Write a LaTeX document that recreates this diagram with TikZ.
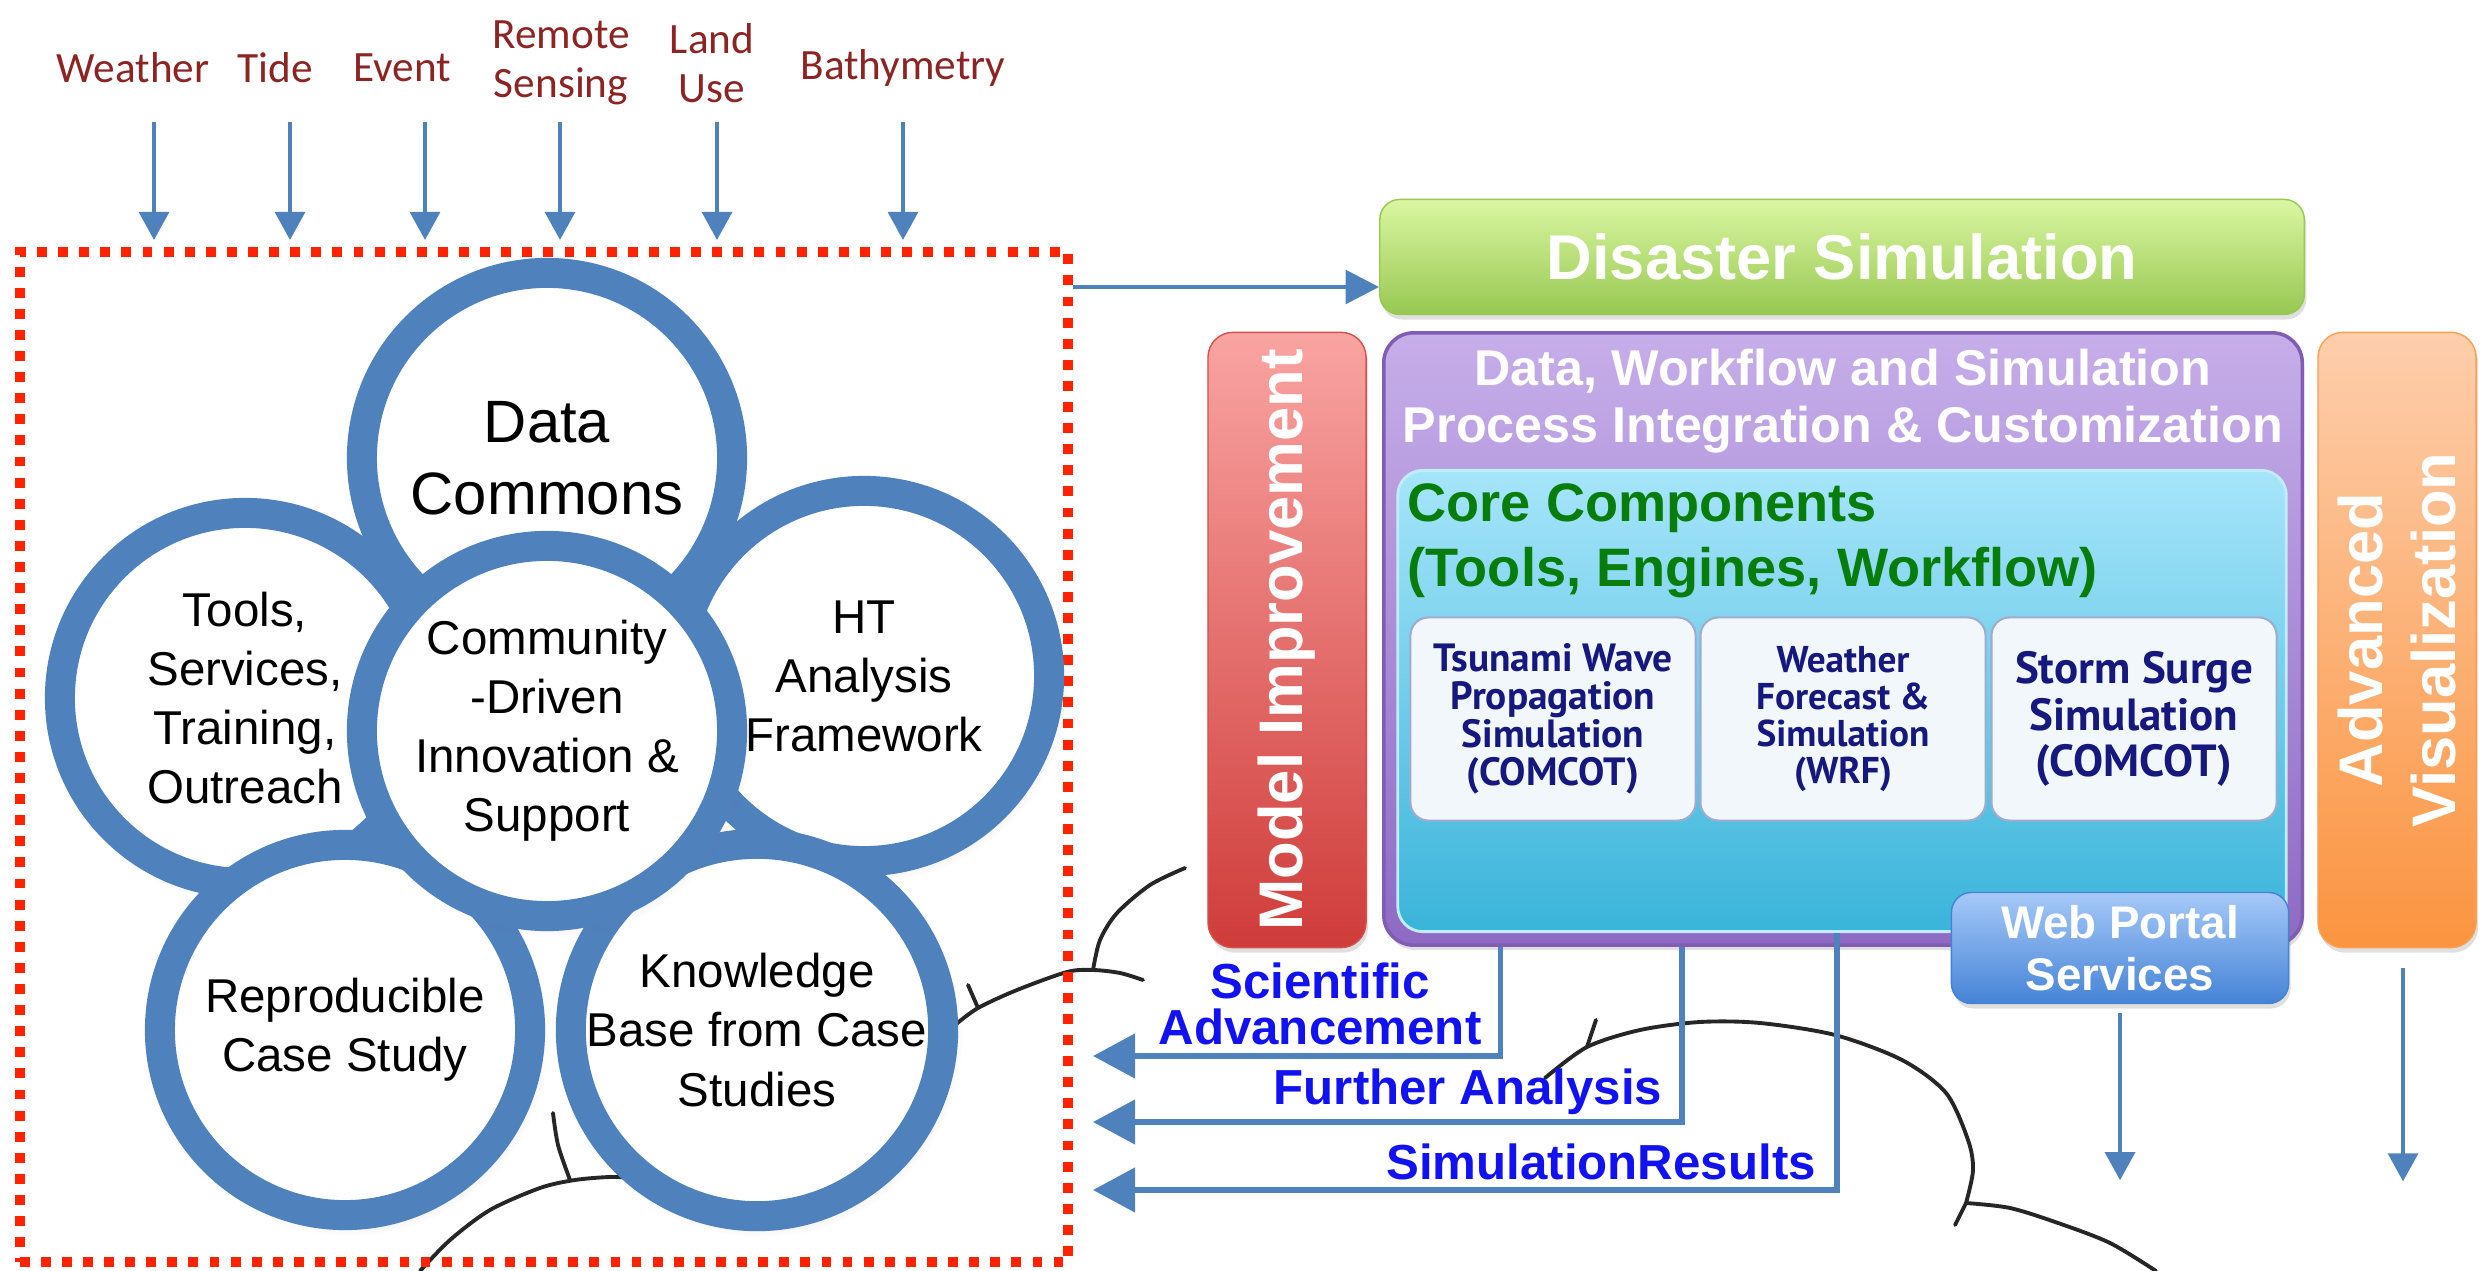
\documentclass[tikz,border=0pt]{standalone}
\usepackage{fontspec}
\setmainfont{Liberation Sans}
\newfontfamily\tagfont{Carlito}
\newfontfamily\modfont{PT Sans}
\usetikzlibrary{arrows.meta,shadows}

\definecolor{ringblue}{RGB}{79,129,189}
\definecolor{tagred}{RGB}{140,36,36}
\definecolor{dotred}{RGB}{255,34,0}
\definecolor{outblue}{RGB}{18,18,240}
\definecolor{coregreen}{RGB}{8,125,12}
\definecolor{navy}{RGB}{22,24,125}
\definecolor{dsTop}{RGB}{218,246,162}
\definecolor{dsBot}{RGB}{152,200,82}
\definecolor{miTop}{RGB}{249,164,162}
\definecolor{miBot}{RGB}{207,60,58}
\definecolor{avTop}{RGB}{253,206,172}
\definecolor{avBot}{RGB}{251,148,64}
\definecolor{prTop}{RGB}{198,174,233}
\definecolor{prBot}{RGB}{142,106,196}
\definecolor{prEdge}{RGB}{128,92,178}
\definecolor{coTop}{RGB}{166,229,250}
\definecolor{coBot}{RGB}{58,180,218}
\definecolor{wpTop}{RGB}{166,201,248}
\definecolor{wpBot}{RGB}{70,131,214}
\definecolor{modfill}{RGB}{241,247,251}
\definecolor{modedge}{RGB}{160,172,205}

\tikzset{
  tag/.style={text=tagred, font=\tagfont\fontsize{12.3}{13.8}\selectfont, align=center, inner sep=0pt},
  feed/.style={draw=ringblue, line width=1.1pt, -{Triangle[length=8pt,width=8.5pt]}},
  link/.style={draw=ringblue, line width=1.3pt, -{Triangle[length=9.5pt,width=9.5pt]}},
  back/.style={draw=ringblue, line width=1.5pt, -{Triangle[length=12pt,width=12.5pt]}},
  cloud/.style={draw=black!85, line width=1.1pt, line cap=round},
  poolbox/.style={draw=dotred, line width=2.8pt, dash pattern=on 2.8pt off 3.2pt, minimum width=10.48cm, minimum height=10.1cm, inner sep=0pt},
  ring/.style={circle, draw=ringblue, line width=0.3cm, fill=white, minimum size=3.7cm, inner sep=0pt, align=center,
    font=\fontsize{13.5}{16.8}\selectfont,
    circular drop shadow={opacity=0.25, shadow xshift=0.04cm, shadow yshift=-0.06cm, shadow scale=1.08}},
  softshadow/.style={drop shadow={opacity=0.25, shadow xshift=0.02cm, shadow yshift=-0.05cm}},
  dsbox/.style={rounded corners=0.2cm, top color=dsTop, bottom color=dsBot, draw=dsBot, minimum width=9.24cm, minimum height=1.15cm,
    text=white, font=\bfseries\fontsize{18}{22}\selectfont, softshadow},
  mibar/.style={rounded corners=0.25cm, top color=miTop, bottom color=miBot, draw=miBot!90, minimum width=1.58cm, minimum height=6.15cm, softshadow},
  avbar/.style={rounded corners=0.25cm, top color=avTop, bottom color=avBot, draw=avBot!90, minimum width=1.58cm, minimum height=6.15cm, softshadow},
  bartext/.style={rotate=90, text=white, font=\bfseries\fontsize{17.5}{20.8}\selectfont, inner sep=0pt, align=center},
  procbox/.style={rounded corners=0.3cm, top color=prTop, bottom color=prBot, draw=prEdge, line width=1pt, minimum width=9.18cm, minimum height=6.12cm, softshadow},
  proctext/.style={text=white, font=\bfseries\fontsize{14.3}{16.2}\selectfont, align=center, inner sep=0pt},
  corebox/.style={rounded corners=0.25cm, top color=coTop, bottom color=coBot, draw=coTop!70!white, line width=0.8pt, minimum width=8.88cm, minimum height=4.61cm},
  coretext/.style={text=coregreen, font=\bfseries\fontsize{15.4}{18.5}\selectfont, align=left, inner sep=0pt},
  modbox/.style={rounded corners=0.18cm, fill=modfill, draw=modedge, line width=0.6pt, minimum width=2.85cm, minimum height=2.03cm,
    text=navy, align=center, inner sep=0pt, font=\modfont\bfseries\fontsize{11.2}{10.8}\selectfont},
  webbox/.style={rounded corners=0.2cm, top color=wpTop, bottom color=wpBot, draw=wpBot, minimum width=3.37cm, minimum height=1.11cm,
    text=white, align=center, inner sep=0pt, font=\bfseries\fontsize{13}{14.6}\selectfont, softshadow},
  outlbl/.style={text=outblue, font=\bfseries\fontsize{14}{13.2}\selectfont, align=center, inner sep=0pt}
}

\begin{document}
\begin{tikzpicture}[x=0.01cm, y=-0.01cm]
  \useasboundingbox (0,0) rectangle (2486,1271);

  \draw[cloud] plot[smooth] coordinates {(1185,868) (1150,885) (1117,913) (1100,940) (1093,970)};
  \draw[cloud] plot[smooth] coordinates {(955,1025) (978,1008) (1017,990) (1067,972) (1093,970) (1120,973) (1143,980)};
  \draw[cloud] (978,1008) -- (968,985);
  \draw[cloud] plot[smooth] coordinates {(420,1271) (450,1240) (490,1210) (540,1188) (575,1180) (610,1177) (640,1178)};
  \draw[cloud] plot[smooth] coordinates {(570,1180) (558,1145) (553,1113)};
  \draw[cloud] plot[smooth] coordinates {(1545,1078) (1587,1047) (1640,1030) (1700,1022) (1760,1023) (1835,1035) (1902,1060) (1946,1093) (1968,1140) (1973,1170) (1966,1203)};
  \draw[cloud] (1587,1047) -- (1596,1020);
  \draw[cloud] (1966,1203) -- (1955,1225);
  \draw[cloud] plot[smooth] coordinates {(1966,1203) (2010,1208) (2058,1223) (2110,1243) (2156,1271)};

  \node[poolbox] (pool) at (544,757) {};

  \node[tag] (wthr) at (133,68) {Weather};
  \node[tag] (tide) at (275,68) {Tide};
  \node[tag] (evnt) at (402,68) {Event};
  \node[tag] (rsen) at (561,63) {Remote\\Sensing};
  \node[tag] (land) at (712,63) {Land\\Use};
  \node[tag] (bath) at (903,68) {Bathymetry};
  \foreach \x [count=\i] in {154,290,425,560,717,903} {
    \coordinate (src\i) at (\x,122);
    \coordinate (dst\i) at (\x,240);
    \draw[feed] (src\i) -- (dst\i);
  }

  \node[ring] (tools) at (245,698) {Tools,\\Services,\\Training,\\Outreach};
  \node[ring, font=\fontsize{17}{20.5}\selectfont] (data) at (547,458) {Data\\Commons};
  \node[ring] (htaf) at (864,676) {HT\\Analysis\\Framework};
  \node[ring] (repro) at (345,1030) {Reproducible\\Case Study};
  \node[ring] (know) at (757,1030) {Knowledge\\Base from Case\\Studies};
  \node[ring] (comm) at (547,731) {Community\\-Driven\\Innovation \&\\Support};

  \node[dsbox] (dsim) at (1842,257) {Disaster Simulation};
  \coordinate (dsin) at ([yshift=-0.3cm]dsim.west);
  \draw[link] (dsin -| pool.east) -- (dsin);

  \node[mibar] (mimp) at (1287,640) {};
  \node[bartext] (mimptxt) at (mimp.center) {Model Improvement};
  \node[avbar] (advis) at (2397,640) {};
  \node[bartext] (advistxt) at (advis.center) {Advanced\\Visualization};

  \node[procbox] (proc) at (1843,639) {};
  \node[proctext] (proctxt) at (1843,401) {Data, Workflow and Simulation\\Process Integration \& Customization};
  \node[corebox] (core) at (1842,701) {};
  \node[coretext, anchor=west] (coretxt) at (1407,541) {Core Components\\(Tools, Engines, Workflow)};
  \node[modbox] (tsun) at (1553,719) {Tsunami Wave\\Propagation\\Simulation\\(COMCOT)};
  \node[modbox, font=\modfont\bfseries\fontsize{10.6}{10.5}\selectfont] (wrf) at (1843,719) {Weather\\Forecast \&\\Simulation\\(WRF)};
  \node[modbox, font=\modfont\bfseries\fontsize{12.8}{13.2}\selectfont] (surge) at (2134,719) {Storm Surge\\Simulation\\(COMCOT)};
  \node[webbox] (webp) at (2120,948) {Web Portal\\Services};

  \coordinate (saEnd) at (1093,1056);
  \coordinate (faEnd) at (1093,1122);
  \coordinate (srEnd) at (1093,1190);
  \draw[back] ([xshift=-3.42cm]proc.south) |- (saEnd);
  \draw[back] ([xshift=-1.61cm]proc.south) |- (faEnd);
  \draw[back] ([xshift=-0.05cm]core.south) |- (srEnd);
  \node[outlbl] (sciadv) at (1320,1004) {Scientific\\Advancement};
  \node[outlbl] (furan) at (1468,1092) {Further Analysis};
  \node[outlbl] (simres) at (1601,1162) {SimulationResults};

  \draw[feed] ([yshift=-0.09cm]webp.south) -- ++(0,167);
  \draw[feed] ([xshift=0.06cm,yshift=-0.2cm]advis.south) -- ++(0,213);
\end{tikzpicture}
\end{document}
